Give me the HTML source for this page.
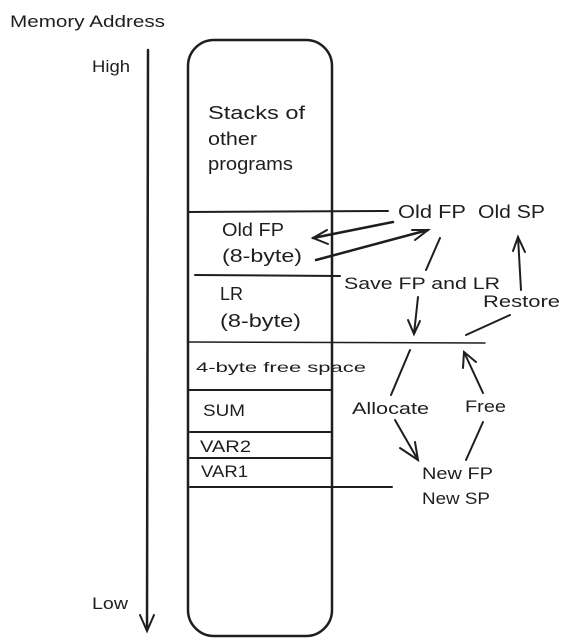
<!DOCTYPE html>
<html><head><style>body{margin:0;background:#fff}svg{display:block}text{font-family:"Liberation Sans",sans-serif;fill:#1e1e1e}</style></head><body>
<svg width="570" height="641" viewBox="0 0 570 641" xmlns="http://www.w3.org/2000/svg">
<g stroke="#1e1e1e" fill="none" stroke-linecap="round">
<rect x="188" y="40" width="144" height="596" rx="26" stroke-width="2.5"/>
<path d="M148 50 L147 630" stroke-width="2.5"/>
<path d="M140 615 L147 631 L154 615" stroke-width="2"/>
<path d="M188 212 L388 211" stroke-width="2"/>
<path d="M195 275 L340 276" stroke-width="2"/>
<path d="M188 342 L485 343" stroke-width="1.5"/>
<path d="M188 390 L332 390" stroke-width="2"/>
<path d="M190 432 L332 432" stroke-width="2"/>
<path d="M190 458 L332 458" stroke-width="2"/>
<path d="M190 487 L392 487" stroke-width="2"/>
<path d="M393 222 L313 238" stroke-width="2.5"/>
<path d="M327 230 L313 238 L328 244" stroke-width="2"/>
<path d="M316 260 L428 230" stroke-width="2.5"/>
<path d="M412 230 L428 230 L415 240" stroke-width="2"/>
<path d="M440 238 L426 270" stroke-width="2"/>
<path d="M418 297 L414 334" stroke-width="2"/>
<path d="M408 320 L414 334 L420 321" stroke-width="2"/>
<path d="M521 290 L518 237" stroke-width="2"/>
<path d="M513 251 L518 237 L525 252" stroke-width="2"/>
<path d="M510 315 L466 335" stroke-width="2"/>
<path d="M410 350 L391 395" stroke-width="2"/>
<path d="M395 420 L418 460" stroke-width="2"/>
<path d="M400 448 L418 460 L415 442" stroke-width="2"/>
<path d="M483 393 L464 352" stroke-width="2"/>
<path d="M463 368 L464 352 L476 362" stroke-width="2"/>
<path d="M483 422 L466 460" stroke-width="2"/>
</g>
<g font-size="17" lengthAdjust="spacingAndGlyphs">
<text x="10" y="27" textLength="155" lengthAdjust="spacingAndGlyphs">Memory Address</text>
<text x="92" y="72" textLength="38" lengthAdjust="spacingAndGlyphs">High</text>
<text x="92" y="609" textLength="36" lengthAdjust="spacingAndGlyphs">Low</text>
<text x="208" y="119" font-size="18" textLength="97" lengthAdjust="spacingAndGlyphs">Stacks of</text>
<text x="208" y="145" font-size="18" textLength="49" lengthAdjust="spacingAndGlyphs">other</text>
<text x="208" y="170" font-size="18" textLength="85" lengthAdjust="spacingAndGlyphs">programs</text>
<text x="222" y="236" font-size="18" textLength="62" lengthAdjust="spacingAndGlyphs">Old FP</text>
<text x="222" y="262" font-size="18" textLength="80" lengthAdjust="spacingAndGlyphs">(8-byte)</text>
<text x="220" y="300" font-size="18" textLength="23" lengthAdjust="spacingAndGlyphs">LR</text>
<text x="220" y="327" font-size="18" textLength="81" lengthAdjust="spacingAndGlyphs">(8-byte)</text>
<text x="196" y="372" font-size="14" textLength="170" lengthAdjust="spacingAndGlyphs">4-byte free space</text>
<text x="203" y="416" textLength="42" lengthAdjust="spacingAndGlyphs">SUM</text>
<text x="200" y="452" textLength="51" lengthAdjust="spacingAndGlyphs">VAR2</text>
<text x="201" y="477" textLength="47" lengthAdjust="spacingAndGlyphs">VAR1</text>
<text x="398" y="218" font-size="18" textLength="68" lengthAdjust="spacingAndGlyphs">Old FP</text>
<text x="478" y="218" font-size="18" textLength="67" lengthAdjust="spacingAndGlyphs">Old SP</text>
<text x="344" y="289" textLength="156" lengthAdjust="spacingAndGlyphs">Save FP and LR</text>
<text x="483" y="307" textLength="77" lengthAdjust="spacingAndGlyphs">Restore</text>
<text x="352" y="414" textLength="77" lengthAdjust="spacingAndGlyphs">Allocate</text>
<text x="465" y="412" textLength="41" lengthAdjust="spacingAndGlyphs">Free</text>
<text x="422" y="479" textLength="71" lengthAdjust="spacingAndGlyphs">New FP</text>
<text x="422" y="504" textLength="68" lengthAdjust="spacingAndGlyphs">New SP</text>
</g>
</svg>
</body></html>
